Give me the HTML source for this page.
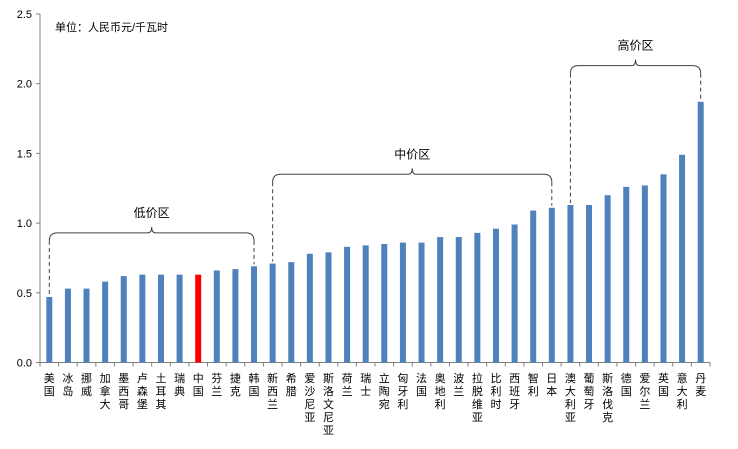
<!DOCTYPE html>
<html><head><meta charset="utf-8"><style>
body{margin:0;background:#fff;}
svg{display:block;font-family:"Liberation Sans","Noto Sans CJK SC",sans-serif;}
</style></head><body>
<svg id="chart" width="738" height="449" viewBox="0 0 738 449" xmlns="http://www.w3.org/2000/svg">
<text x="55" y="31" font-size="11" fill="#000">单位：人民币元/千瓦时</text>
</svg>
<script>
const categories=["美国","冰岛","挪威","加拿大","墨西哥","卢森堡","土耳其","瑞典","中国","芬兰","捷克","韩国","新西兰","希腊","爱沙尼亚","斯洛文尼亚","荷兰","瑞士","立陶宛","匈牙利","法国","奥地利","波兰","拉脱维亚","比利时","西班牙","智利","日本","澳大利亚","葡萄牙","斯洛伐克","德国","爱尔兰","英国","意大利","丹麦"];
const prices=[0.47,0.53,0.53,0.58,0.62,0.63,0.63,0.63,0.63,0.66,0.67,0.69,0.71,0.72,0.78,0.79,0.83,0.84,0.85,0.86,0.86,0.90,0.90,0.93,0.96,0.99,1.09,1.11,1.13,1.13,1.20,1.26,1.27,1.35,1.49,1.87];
const yTicks=["0.0","0.5","1.0","1.5","2.0","2.5"];
const groupNames=["低价区","中价区","高价区"];
const groupStart=[0,12,28];
const groupEnd=[11,27,35];
const groupLevel=[0.93,1.35,2.13];

const svg=document.getElementById('chart');
const NS='http://www.w3.org/2000/svg';
const x0=40,x1=710,y0=362.5,yTop=14;
const yMax=2.5;
const step=(x1-x0)/categories.length;
const y=v=>y0-(v/yMax)*(y0-yTop);
const xc=i=>x0+step*(i+0.5);
function mk(tag,attrs){const e=document.createElementNS(NS,tag);for(const k in attrs)e.setAttribute(k,attrs[k]);svg.appendChild(e);return e;}

// axes
let a=mk('line',{x1:x0,y1:yTop,x2:x0,y2:y0,stroke:'#808080','stroke-width':1});


a=mk('line',{x1:x0,y1:y0,x2:x1,y2:y0,stroke:'#808080','stroke-width':1});


yTicks.forEach((t,i)=>{
  const v=parseFloat(t),yy=y(v);
  const tk=mk('line',{x1:x0-4,y1:yy,x2:x0,y2:yy,stroke:'#808080'});
  
  
  const tx=mk('text',{x:x0-8,y:yy+4,'font-size':11,'text-anchor':'end',fill:'#000'});
  tx.textContent=t;
  
  
});
for(let i=0;i<=categories.length;i++){
  const xx=x0+step*i;
  const tk=mk('line',{x1:xx,y1:y0,x2:xx,y2:y0+4,stroke:'#808080'});
  
  
}
categories.forEach((c,i)=>{
  const b=mk('rect',{x:xc(i)-3,y:y(prices[i]),width:6,height:y0-y(prices[i]),fill:c==='中国'?'#ff0000':'#4f81bd'});
  
  
  const t=mk('text',{'font-size':11,'text-anchor':'middle',fill:'#000'});
  
  
  [...c].forEach((ch,j)=>{const s=document.createElementNS(NS,'tspan');s.setAttribute('x',xc(i));s.setAttribute('y',382+j*13);s.textContent=ch;t.appendChild(s);});
});
groupNames.forEach((g,k)=>{
  const xs=xc(groupStart[k]),xe=xc(groupEnd[k]),yy=y(groupLevel[k]);
  const mid=(xs+xe)/2;
  const d=`M${xs},${yy+8} Q${xs},${yy} ${xs+8},${yy} L${mid-4},${yy} Q${mid},${yy} ${mid},${yy-6} Q${mid},${yy} ${mid+4},${yy} L${xe-8},${yy} Q${xe},${yy} ${xe},${yy+8}`;
  const p=mk('path',{d:d,fill:'none',stroke:'#404040','stroke-width':1});
  
  
  [[xs,groupStart[k]],[xe,groupEnd[k]]].forEach(([xx,idx])=>{
    const l=mk('line',{x1:xx,y1:yy+8,x2:xx,y2:y(prices[idx])-2,stroke:'#404040','stroke-dasharray':'4,3'});
    
    
  });
  const t=mk('text',{x:mid,y:yy-16,'font-size':12,'text-anchor':'middle',fill:'#000'});
  t.textContent=g;
  
  
});
</script>
</body></html>
